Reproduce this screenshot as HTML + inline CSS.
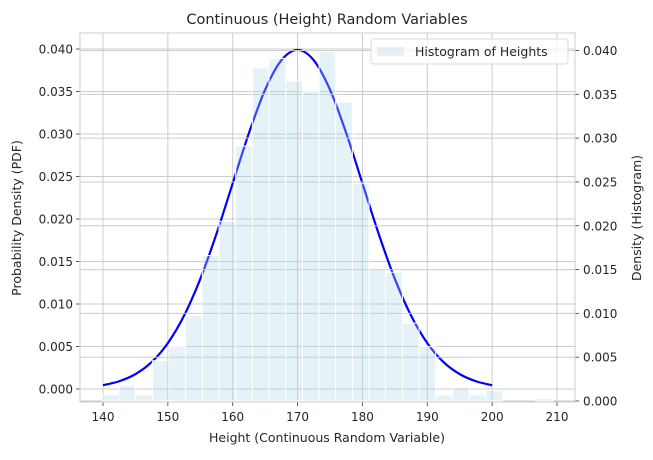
<!DOCTYPE html>
<html><head><meta charset="utf-8"><style>
body{margin:0;background:#fff;}
text{font-family:"DejaVu Sans","Liberation Sans",sans-serif;fill:#262626;}
</style></head><body>
<svg id="chart" width="653" height="455" xmlns="http://www.w3.org/2000/svg"></svg>
<script>
const binStart = 139.9;
const binWidth = 2.57;
const histValues = [0.0007,0.0018,0.0007,0.0046,0.0062,0.0097,0.0166,0.0205,0.0291,0.0380,0.0391,0.0365,0.0353,0.0399,0.0341,0.0248,0.0151,0.0147,0.0089,0.0062,0.0007,0.0015,0.0007,0.0012,0,0,0.0003];
const pdfX = [140,142.5,145,147.5,150,152.5,155,157.5,160,162.5,165,167.5,170,172.5,175,177.5,180,182.5,185,187.5,190,192.5,195,197.5,200];
const pdfY = [0.00044,0.00091,0.00175,0.00317,0.00540,0.00863,0.01295,0.01826,0.02420,0.03011,0.03521,0.03867,0.03989,0.03867,0.03521,0.03011,0.02420,0.01826,0.01295,0.00863,0.00540,0.00317,0.00175,0.00091,0.00044];
const xTicks = [140,150,160,170,180,190,200,210];
const yLeftTicks = [0,0.005,0.010,0.015,0.020,0.025,0.030,0.035,0.040];
const yRightTicks = [0,0.005,0.010,0.015,0.020,0.025,0.030,0.035,0.040];

const L=80,R=575,T=33,B=402;
const xs = v => 103 + (v-140)*(557-103)/70;
const yl = v => 389 - v*(389-49)/0.04;
const yr = v => 401 - v*(401-50.5)/0.04;
const svg = document.getElementById('chart');
const NS='http://www.w3.org/2000/svg';
function mk(tag, attrs, parent){const e=document.createElementNS(NS,tag);for(const k in attrs)e.setAttribute(k,attrs[k]);(parent||svg).appendChild(e);return e;}

// x grid
xTicks.forEach(t=>{
  const g=mk('line',{x1:xs(t),x2:xs(t),y1:T,y2:B,stroke:'#cccccc','stroke-width':1});
  
  
  const tk=mk('line',{x1:xs(t),x2:xs(t),y1:B,y2:B+4,stroke:'#333','stroke-width':0.8});
  
  
  const tx=mk('text',{x:xs(t),y:B+19,'text-anchor':'middle','font-size':12});
  tx.textContent=t;
  
  
});
// left grid
yLeftTicks.forEach(t=>{
  const g=mk('line',{x1:L,x2:R,y1:yl(t),y2:yl(t),stroke:'#cccccc','stroke-width':1});
  
  
  const tk=mk('line',{x1:L-4,x2:L,y1:yl(t),y2:yl(t),stroke:'#333','stroke-width':0.8});
  
  
  const tx=mk('text',{x:L-7,y:yl(t)+4.5,'text-anchor':'end','font-size':12});
  tx.textContent=t.toFixed(3);
  
  
});
// pdf curve (smooth)
let d='M'+xs(pdfX[0])+','+yl(pdfY[0]);
for(let i=0;i<pdfX.length-1;i++){
  const p0=[xs(pdfX[Math.max(i-1,0)]),yl(pdfY[Math.max(i-1,0)])];
  const p1=[xs(pdfX[i]),yl(pdfY[i])];
  const p2=[xs(pdfX[i+1]),yl(pdfY[i+1])];
  const p3=[xs(pdfX[Math.min(i+2,pdfX.length-1)]),yl(pdfY[Math.min(i+2,pdfX.length-1)])];
  d+=' C'+(p1[0]+(p2[0]-p0[0])/6)+','+(p1[1]+(p2[1]-p0[1])/6)+' '+(p2[0]-(p3[0]-p1[0])/6)+','+(p2[1]-(p3[1]-p1[1])/6)+' '+p2[0]+','+p2[1];
}
const curve=mk('path',{d:d,fill:'none',stroke:'#0000ff','stroke-width':2.2});


// right grid
yRightTicks.forEach(t=>{
  const g=mk('line',{x1:L,x2:R,y1:yr(t),y2:yr(t),stroke:'#cccccc','stroke-width':1});
  
  
  const tk=mk('line',{x1:R,x2:R+4,y1:yr(t),y2:yr(t),stroke:'#333','stroke-width':0.8});
  
  
  const tx=mk('text',{x:R+8,y:yr(t)+4.5,'text-anchor':'start','font-size':12});
  tx.textContent=t.toFixed(3);
  
  
});
// bars
histValues.forEach((v,i)=>{
  if(v<=0) return;
  const x0=xs(binStart+i*binWidth), x1=xs(binStart+(i+1)*binWidth);
  const b=mk('rect',{x:x0,y:yr(v),width:x1-x0,height:yr(0)-yr(v),fill:'rgba(173,216,230,0.32)',stroke:'#fff','stroke-width':1});
  
  
});
// frame
const fr=mk('rect',{x:L,y:T,width:R-L,height:B-T,fill:'none',stroke:'#cccccc','stroke-width':1});


// legend
const lg=mk('g',{});


mk('rect',{x:371,y:39,width:197,height:25,rx:3,fill:'rgba(255,255,255,0.8)',stroke:'#d8d8d8'},lg);
const lp=mk('rect',{x:377,y:47,width:27,height:9,fill:'rgba(173,216,230,0.32)'},lg);


const lt=mk('text',{x:415,y:56,'font-size':12.5},lg);
lt.textContent='Histogram of Heights';


// titles
const ti=mk('text',{x:327,y:24,'text-anchor':'middle','font-size':14.5});
ti.textContent='Continuous (Height) Random Variables';


const xl=mk('text',{x:327,y:442,'text-anchor':'middle','font-size':12.5});
xl.textContent='Height (Continuous Random Variable)';


const ylt=mk('text',{x:0,y:0,'text-anchor':'middle','font-size':12.5,transform:'translate(21,218) rotate(-90)'});
ylt.textContent='Probability Density (PDF)';


const yrt=mk('text',{x:0,y:0,'text-anchor':'middle','font-size':12.5,transform:'translate(641,218) rotate(-90)'});
yrt.textContent='Density (Histogram)';


</script>
</body></html>
